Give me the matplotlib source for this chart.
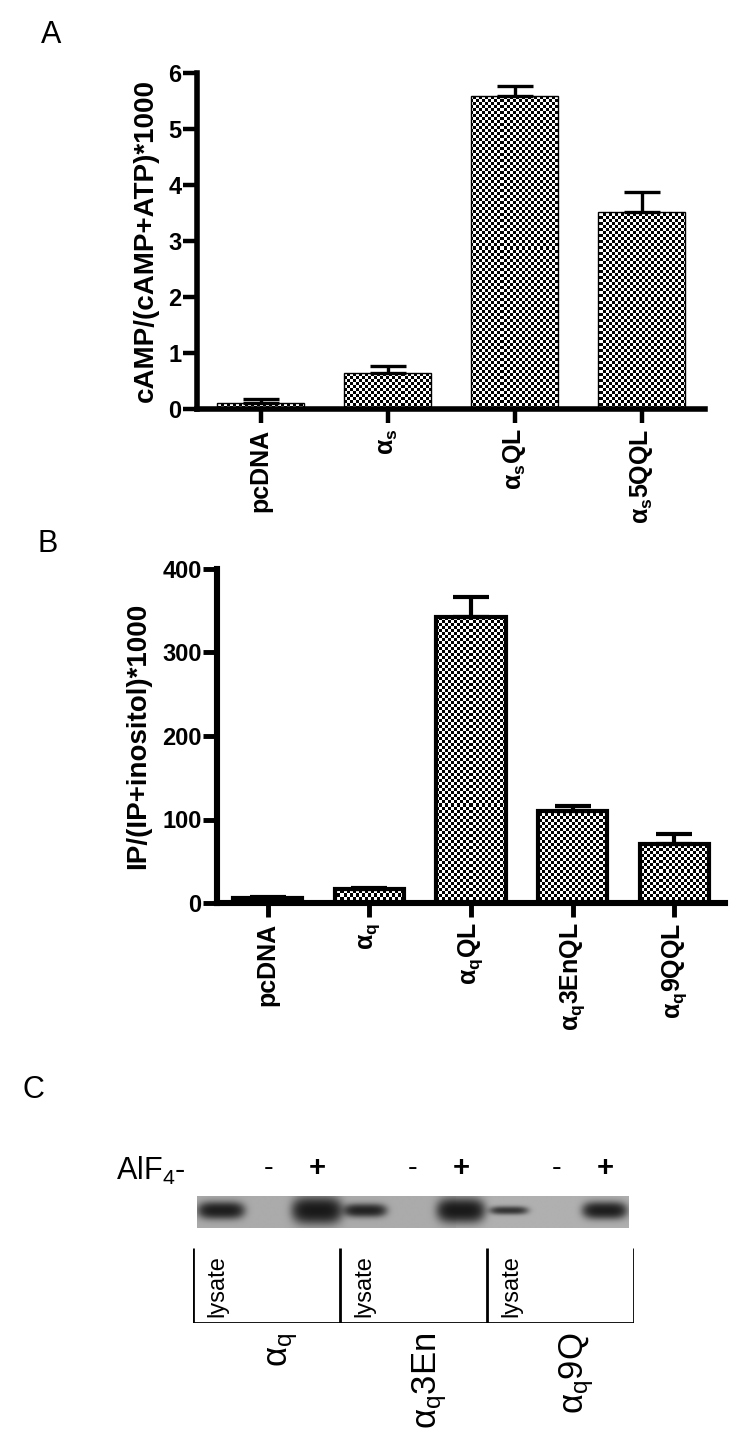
import numpy as np
import matplotlib
matplotlib.use('Agg')
import matplotlib.pyplot as plt

# ---------------- data ----------------
a_labels = ['pcDNA', 'α$_\\mathregular{s}$', 'α$_\\mathregular{s}$QL', 'α$_\\mathregular{s}$5QQL']
a_values = [0.11, 0.64, 5.59, 3.52]
a_errors = [0.07, 0.12, 0.18, 0.36]
a_ylabel = 'cAMP/(cAMP+ATP)*1000'
a_yticks = [0, 1, 2, 3, 4, 5, 6]

b_labels = ['pcDNA', 'α$_\\mathregular{q}$', 'α$_\\mathregular{q}$QL',
            'α$_\\mathregular{q}$3EnQL', 'α$_\\mathregular{q}$9QQL']
b_values = [6, 17, 343, 110, 71]
b_errors = [1, 1.5, 23, 6, 12]
b_ylabel = 'IP/(IP+inositol)*1000'
b_yticks = [0, 100, 200, 300, 400]

c_lane_treatment = ['lysate', '-', '+', 'lysate', '-', '+', 'lysate', '-', '+']
c_band_intensity = [0.9, 0.0, 1.0, 0.8, 0.0, 1.0, 0.6, 0.0, 0.9]
c_band_halfwidth = [0.44, 0.0, 0.47, 0.41, 0.0, 0.45, 0.37, 0.0, 0.42]
c_band_thickness = [0.36, 0.0, 0.55, 0.28, 0.0, 0.50, 0.18, 0.0, 0.36]
c_groups = ['α$_\\mathregular{q}$', 'α$_\\mathregular{q}$3En', 'α$_\\mathregular{q}$9Q']
c_treatment_label = 'AlF$_\\mathregular{4}$-'

# ---------------- figure ----------------
W, H = 750, 1452
plt.rcParams['font.family'] = ['Liberation Sans', 'DejaVu Sans']
plt.rcParams['mathtext.default'] = 'regular'
fig = plt.figure(figsize=(W / 100, H / 100), dpi=100)
fig.patch.set_facecolor('white')
NARROW = ['Liberation Sans Narrow', 'Liberation Sans', 'DejaVu Sans']


def px_axes(left, top, right, bottom):
    return fig.add_axes([left / W, 1 - bottom / H, (right - left) / W, (bottom - top) / H])


def checker_fill(ax, bars, cell_px=3):
    bb = ax.get_position()
    nx = int(round(bb.width * W / cell_px))
    ny = int(round(bb.height * H / cell_px))
    arr = (np.add.outer(np.arange(ny), np.arange(nx)) % 2).astype(float)
    xl, yl = ax.get_xlim(), ax.get_ylim()
    for bar in bars:
        im = ax.imshow(arr, cmap='gray', vmin=0, vmax=1, extent=(xl[0], xl[1], yl[0], yl[1]),
                       aspect='auto', interpolation='nearest', zorder=2)
        im.set_clip_path(bar)
    ax.set_xlim(xl)
    ax.set_ylim(yl)


def bar_panel(ax, labels, values, errors, yticks, ylabel, edge_lw, err_lw, spine_lw, label_x_px):
    n = len(values)
    x = np.arange(n)
    ax.set_xlim(-0.5, n - 0.5)
    ax.set_ylim(yticks[0], yticks[-1])
    bars = ax.bar(x, values, width=0.68, facecolor='none', edgecolor='black',
                  linewidth=edge_lw, zorder=3)
    checker_fill(ax, bars)
    ax.errorbar(x, values, yerr=[np.zeros(n), errors], fmt='none', ecolor='black',
                elinewidth=err_lw, capsize=13, capthick=err_lw, zorder=4)
    for s in ['top', 'right']:
        ax.spines[s].set_visible(False)
    for s in ['left', 'bottom']:
        ax.spines[s].set_linewidth(spine_lw)
        ax.spines[s].set_capstyle('projecting')
    ax.set_yticks(yticks)
    ax.set_yticklabels([str(t) for t in yticks], fontsize=17, fontweight='bold')
    ax.set_xticks(x)
    ax.set_xticklabels(labels, rotation=90, fontsize=18, fontweight='bold')
    ax.tick_params(axis='both', direction='out', width=spine_lw * 0.8, length=10)
    ax.tick_params(axis='y', pad=1)
    ax.tick_params(axis='x', pad=4)
    ax.set_ylabel(ylabel, fontsize=20, fontweight='bold', va='center')
    bb = ax.get_position()
    ax.yaxis.set_label_coords((label_x_px - bb.x0 * W) / (bb.width * W), 0.5)
    ax.patch.set_alpha(0)


axA = px_axes(197, 73, 705, 409)
bar_panel(axA, a_labels, a_values, a_errors, a_yticks, a_ylabel, 1.0, 2.4, 4.0, 146)

axB = px_axes(217, 569, 725, 903)
bar_panel(axB, b_labels, b_values, b_errors, b_yticks, b_ylabel, 3.0, 3.0, 4.4, 138)

# panel letters
fig.text(41 / W, 1 - 43 / H, 'A', fontsize=22, family=NARROW, ha='left', va='baseline')
fig.text(38 / W, 1 - 552 / H, 'B', fontsize=22, family=NARROW, ha='left', va='baseline')
fig.text(23 / W, 1 - 1098 / H, 'C', fontsize=22, family=NARROW, ha='left', va='baseline')

# ---------------- panel C: blot ----------------
nl = len(c_lane_treatment)
axBlot = px_axes(197, 1196, 629, 1228)
xs = np.linspace(-0.5, nl - 0.5, 900)
ys = np.linspace(0, 1, 70)
X, Y = np.meshgrid(xs, ys)
bg = np.where(X < 4.9, 0.67, 0.69)
dark = np.zeros_like(X)
for lane, (inten, hw, th) in enumerate(zip(c_band_intensity, c_band_halfwidth, c_band_thickness)):
    if inten <= 0:
        continue
    r = (np.abs(X - lane) / hw) ** 4 + (np.abs(Y - 0.55) / (th / 1.6)) ** 2
    dark += inten * np.exp(-r * 1.0)
dark = 1 - np.exp(-2.2 * dark)
img = bg - (bg - 0.03) * dark
axBlot.imshow(img, cmap='gray', vmin=0, vmax=1, extent=(-0.5, nl - 0.5, 0, 1),
              aspect='auto', interpolation='bilinear', origin='lower')
axBlot.set_xlim(-0.5, nl - 0.5)
axBlot.set_ylim(0, 1)
axBlot.axis('off')

for lane, t in enumerate(c_lane_treatment):
    if t in ('-', '+'):
        axBlot.text(lane, 1.62, t, fontsize=21, family=NARROW, ha='center', va='baseline',
                    fontweight='bold' if t == '+' else 'normal')
axBlot.text(-0.73, 1.5, c_treatment_label, fontsize=22, family=NARROW, ha='right', va='baseline')

# bracket with lysate / group labels
axBr = px_axes(193, 1248, 634, 1323)
axBr.set_xlim(-0.5, nl - 0.5)
axBr.set_ylim(0, 1)
axBr.axis('off')
ng = len(c_groups)
per = nl // ng
bounds = [g * per - 0.5 for g in range(ng + 1)]
axBr.vlines(bounds, 0, 1, color='black', linewidth=2.0)
axBr.hlines(0, bounds[0], bounds[-1], color='black', linewidth=2.0)
for lane, t in enumerate(c_lane_treatment):
    if t == 'lysate':
        axBr.text(lane, 0.08, t, rotation=90, fontsize=17, ha='center', va='bottom')
for g, name in enumerate(c_groups):
    axBr.text(g * per + 1.33, -0.13, name, rotation=90, fontsize=25, ha='center', va='top',
              clip_on=False)

fig.savefig('out.png', dpi=100, facecolor='white')
